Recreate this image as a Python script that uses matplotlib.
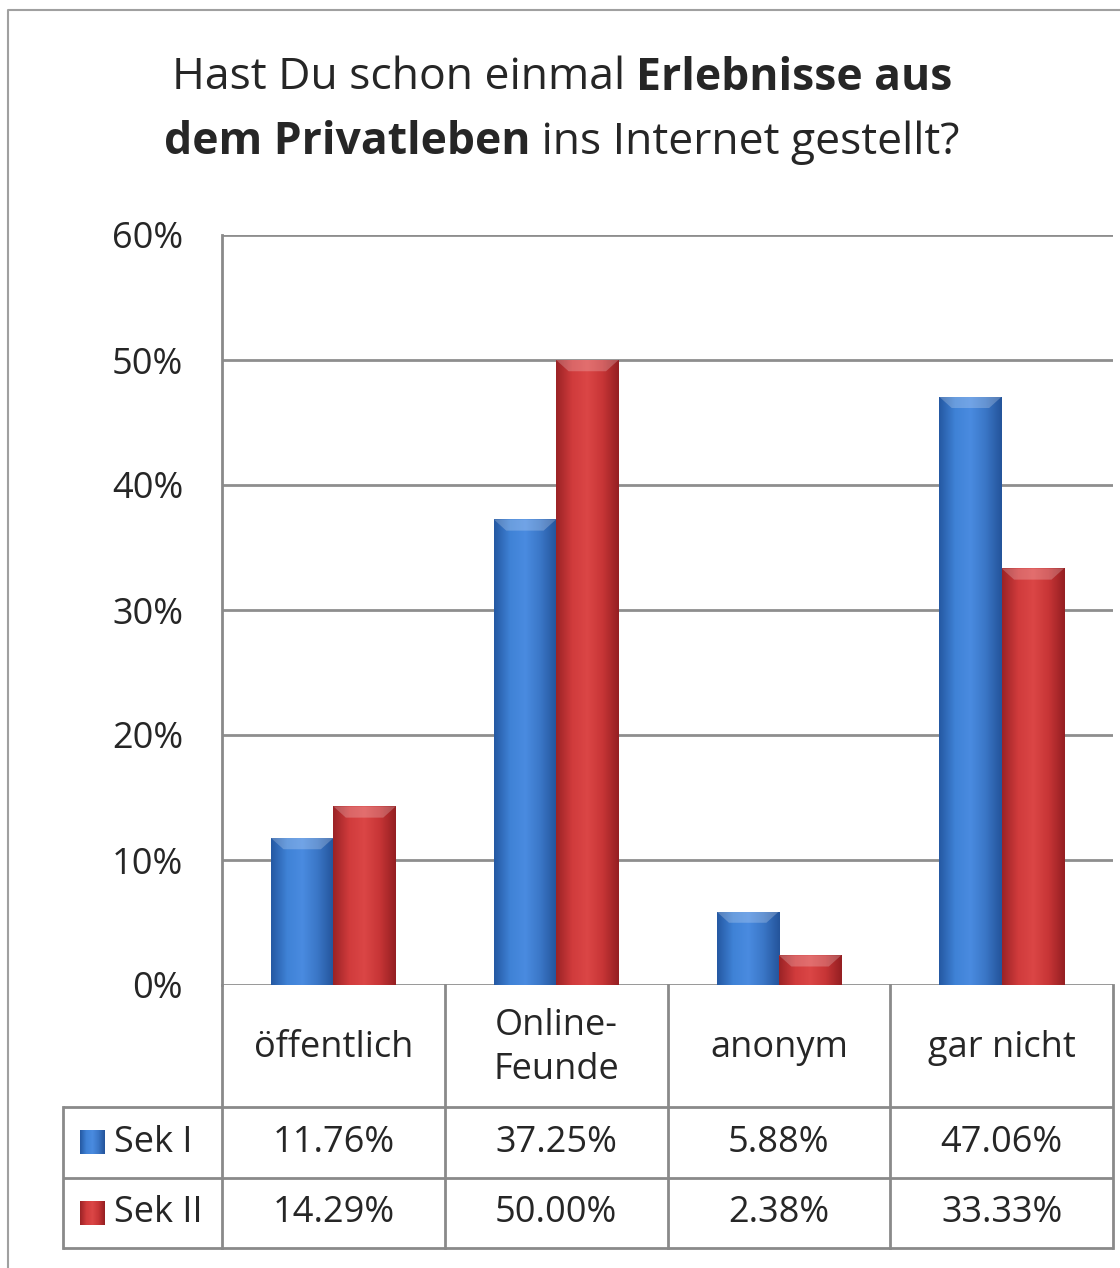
import matplotlib
matplotlib.use('Agg')
import matplotlib.pyplot as plt
import matplotlib.transforms as mtransforms
from matplotlib.colors import LinearSegmentedColormap
import numpy as np

plt.rcParams['font.family'] = ['Open Sans', 'DejaVu Sans']

categories = ['öffentlich', 'Online-\nFeunde', 'anonym', 'gar nicht']
series_names = ['Sek I', 'Sek II']
sek1 = [11.76, 37.25, 5.88, 47.06]
sek2 = [14.29, 50.00, 2.38, 33.33]
yticks = [0, 10, 20, 30, 40, 50, 60]

W, H = 1120, 1268
fig = plt.figure(figsize=(W / 100, H / 100), dpi=100)
fig.patch.set_facecolor('white')

# axes placed in pixel units of the reference
ax_l, ax_r, ax_t, ax_b = 222, 1113, 235, 985
ax = fig.add_axes([ax_l / W, 1 - ax_b / H, (ax_r - ax_l) / W, (ax_b - ax_t) / H])
ov = fig.add_axes([0, 0, 1, 1], facecolor='none', zorder=5)
ov.set_xlim(0, W)
ov.set_ylim(H, 0)
ov.axis('off')

grid_c = '#8e8e8e'
line_c = '#8a8a8a'
text_c = '#262626'
fs = 26

blue_cm = LinearSegmentedColormap.from_list('b', ['#2559a3', '#3f82d6', '#4a8be0', '#3a76c6', '#24549b'])
red_cm = LinearSegmentedColormap.from_list('r', ['#9c2326', '#d03b3c', '#db4646', '#c73536', '#951f22'])

x = np.arange(len(categories))
bw = 0.28
b1 = ax.bar(x - bw / 2, sek1, bw, color='#3a76c6', zorder=3)
b2 = ax.bar(x + bw / 2, sek2, bw, color='#c73536', zorder=3)

grad = np.linspace(0, 1, 64).reshape(1, -1)
for bars, cm in ((b1, blue_cm), (b2, red_cm)):
    for p in bars:
        x0, y0 = p.get_x(), p.get_y()
        w, h = p.get_width(), p.get_height()
        im = ax.imshow(grad, cmap=cm, extent=(x0, x0 + w, y0, y0 + h),
                       aspect='auto', zorder=3.5)
        im.set_clip_path(p)
        # light bevel on top
        bev = min(0.9, h * 0.5)
        ax.fill([x0, x0 + w, x0 + w * 0.8, x0 + w * 0.2],
                [y0 + h, y0 + h, y0 + h - bev, y0 + h - bev],
                color='white', alpha=0.22, lw=0, zorder=3.6)

ax.set_xlim(-0.5, len(categories) - 0.5)
ax.set_ylim(0, 60)
ax.set_yticks(yticks)
ax.set_yticklabels([f'{t}%' for t in yticks], fontsize=fs, color=text_c)
ax.tick_params(axis='y', length=0, pad=28)
ax.set_xticks([])
ax.yaxis.grid(True, color=grid_c, lw=2)
ax.set_axisbelow(True)
for s in ('top', 'right', 'bottom'):
    ax.spines[s].set_visible(False)
ax.spines['left'].set_color(line_c)
ax.spines['left'].set_linewidth(2)

# data table below the chart
tr = mtransforms.blended_transform_factory(ax.transData, ov.transData)
row_top, row1, row2, row_bot = 985, 1107, 1178, 1248
key_l = 63
n = len(categories)
for yy in (row1, row2, row_bot):
    ov.plot([key_l, ax_r], [yy, yy], color=line_c, lw=2, solid_capstyle='butt')
ov.plot([key_l, key_l], [row1, row_bot], color=line_c, lw=2)
for i in range(n + 1):
    ov.plot([i - 0.5, i - 0.5], [row_top, row_bot], color=line_c, lw=2,
            transform=tr, clip_on=False)

for i, c in enumerate(categories):
    ov.text(i, (row_top + row1) / 2 + 2, c, transform=tr, ha='center', va='center',
            fontsize=fs, color=text_c, linespacing=1.3)
for vals, yy0, yy1 in ((sek1, row1, row2), (sek2, row2, row_bot)):
    for i, v in enumerate(vals):
        ov.text(i, (yy0 + yy1) / 2, f'{v:.2f}%', transform=tr, ha='center',
                va='center', fontsize=fs, color=text_c)

for name, cm, yy0, yy1 in ((series_names[0], blue_cm, row1, row2),
                           (series_names[1], red_cm, row2, row_bot)):
    cy = (yy0 + yy1) / 2
    ov.imshow(grad, cmap=cm, extent=(80, 105, cy + 12, cy - 12), aspect='auto', zorder=6)
    ov.text(114, cy, name, ha='left', va='center', fontsize=fs, color=text_c)
ov.set_xlim(0, W)
ov.set_ylim(H, 0)

# outer frame
ov.plot([8, 8, W + 5], [H + 5, 10, 10], color='#a0a0a0', lw=1.5)

# title with bold parts
fig.canvas.draw()
r = fig.canvas.get_renderer()
title_lines = [
    [('Hast Du schon einmal ', 'normal'), ('Erlebnisse aus', 'bold')],
    [('dem Privatleben', 'bold'), (' ins Internet gestellt?', 'normal')],
]
for ty, parts in zip((78, 143), title_lines):
    pieces = [ov.text(0, ty, s, fontsize=32, fontweight=wt, color=text_c,
                      ha='left', va='center') for s, wt in parts]
    widths = [p.get_window_extent(r).width for p in pieces]
    xpos = 562 - sum(widths) / 2
    for p, w in zip(pieces, widths):
        p.set_x(xpos)
        xpos += w

fig.savefig('out.png', dpi=100, facecolor='white')
